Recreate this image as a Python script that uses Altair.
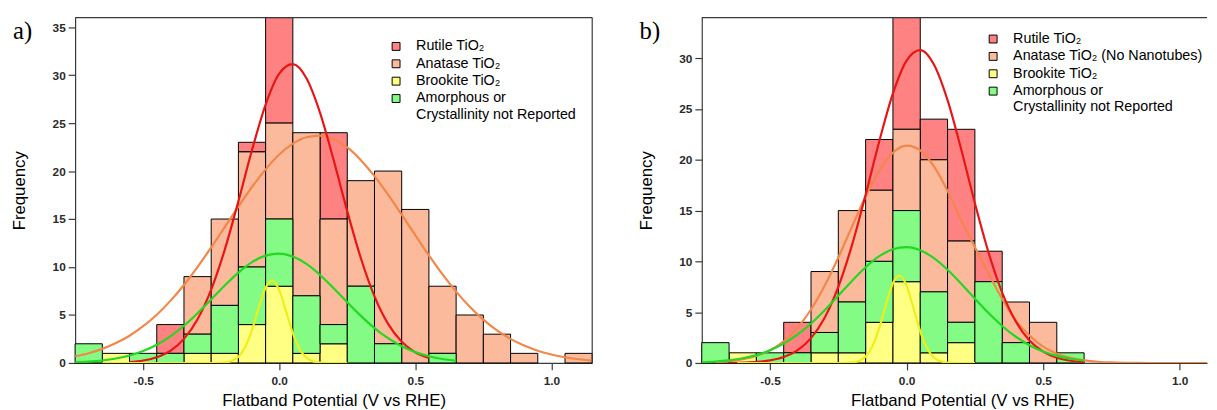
import altair as alt
import pandas as pd

# ---------------- data ----------------
bin_centers = [-0.7, -0.6, -0.5, -0.4, -0.3, -0.2, -0.1, 0.0, 0.1, 0.2,
               0.3, 0.4, 0.5, 0.6, 0.7, 0.8, 0.9, 1.0, 1.1]
bin_width = 0.1

cats_a = ["Rutile TiO₂", "Anatase TiO₂", "Brookite TiO₂",
          "Amorphous or Crystallinity not Reported"]
cats_b = ["Rutile TiO₂", "Anatase TiO₂ (No Nanotubes)", "Brookite TiO₂",
          "Amorphous or Crystallinity not Reported"]

# counts per bin (panel a)
rutile_a   = [0, 0, 0, 3, 0, 0, 1, 11, 0, 9, 0, 0, 0, 0, 0, 0, 0, 0, 0]
anatase_a  = [0, 0, 0, 0, 6, 9, 12, 10, 17, 11, 11, 18, 16, 7, 5, 3, 1, 0, 1]
brookite_a = [0, 1, 0, 0, 1, 1, 4, 8, 1, 2, 0, 0, 0, 0, 0, 0, 0, 0, 0]
amorph_a   = [2, 0, 1, 1, 2, 5, 6, 7, 6, 2, 8, 2, 0, 1, 0, 0, 0, 0, 0]

# counts per bin (panel b)
rutile_b   = [0, 0, 0, 3, 0, 0, 5, 11, 4, 11, 3, 0, 0, 0, 0, 0, 0, 0, 0]
anatase_b  = [0, 0, 0, 0, 6, 9, 7, 8, 13, 8, 0, 4, 4, 0, 0, 0, 0, 0, 0]
brookite_b = [0, 1, 0, 0, 1, 1, 4, 8, 1, 2, 0, 0, 0, 0, 0, 0, 0, 0, 0]
amorph_b   = [2, 0, 1, 1, 2, 5, 6, 7, 6, 2, 8, 2, 0, 1, 0, 0, 0, 0, 0]

# fitted curves
red_a_x = [-0.55, -0.50, -0.45, -0.40, -0.35, -0.30, -0.25, -0.20, -0.15, -0.10, -0.05,
           0.00, 0.05, 0.10, 0.15, 0.20, 0.25, 0.30, 0.35, 0.40, 0.45, 0.50, 0.55]
red_a_y = [0.10, 0.26, 0.60, 1.27, 2.51, 4.56, 7.64, 11.82, 16.86, 22.19, 26.93,
           30.15, 31.14, 29.67, 26.07, 21.14, 15.81, 10.91, 6.94, 4.07, 2.21, 1.10, 0.51]

orange_a_x = [-0.75, -0.70, -0.65, -0.60, -0.55, -0.50, -0.45, -0.40, -0.35, -0.30,
              -0.25, -0.20, -0.15, -0.10, -0.05, 0.00, 0.05, 0.10, 0.15, 0.20,
              0.25, 0.30, 0.35, 0.40, 0.45, 0.50, 0.55, 0.60, 0.65, 0.70,
              0.75, 0.80, 0.85, 0.90, 0.95, 1.00, 1.05, 1.10, 1.15]
orange_a_y = [0.70, 1.02, 1.47, 2.07, 2.84, 3.83, 5.03, 6.47, 8.13, 10.01,
              12.04, 14.16, 16.29, 18.34, 20.18, 21.72, 22.86, 23.53, 23.69, 23.32,
              22.46, 21.14, 19.47, 17.54, 15.45, 13.31, 11.21, 9.23, 7.44, 5.86,
              4.52, 3.40, 2.51, 1.81, 1.28, 0.88, 0.59, 0.39, 0.25]

green_a_x = [-0.75, -0.70, -0.65, -0.60, -0.55, -0.50, -0.45, -0.40, -0.35, -0.30,
             -0.25, -0.20, -0.15, -0.10, -0.05, 0.00, 0.05, 0.10, 0.15, 0.20,
             0.25, 0.30, 0.35, 0.40, 0.45, 0.50, 0.55, 0.60, 0.65]
green_a_y = [0.07, 0.14, 0.26, 0.46, 0.77, 1.24, 1.90, 2.78, 3.88, 5.18,
             6.62, 8.08, 9.42, 10.51, 11.19, 11.40, 11.09, 10.32, 9.17, 7.79,
             6.33, 4.91, 3.64, 2.58, 1.75, 1.13, 0.70, 0.41, 0.23]

yellow_a_x = [-0.65, -0.50, -0.40, -0.30, -0.25, -0.20, -0.175, -0.15, -0.125, -0.10, -0.075,
              -0.05, -0.025, 0.00, 0.025, 0.05, 0.075, 0.10, 0.125, 0.15, 0.20, 0.25]
yellow_a_y = [0.0, 0.0, 0.0, 0.0, 0.0, 0.05, 0.20, 0.64, 1.66, 3.45, 5.79,
              7.85, 8.59, 7.59, 5.41, 3.11, 1.44, 0.54, 0.16, 0.04, 0.0, 0.0]

red_b_x = [-0.65, -0.60, -0.55, -0.50, -0.45, -0.40, -0.35, -0.30, -0.25, -0.20, -0.15, -0.10, -0.05,
           0.00, 0.05, 0.10, 0.15, 0.20, 0.25, 0.30, 0.35, 0.40, 0.45, 0.50, 0.55, 0.60, 0.65]
red_b_y = [0.01, 0.04, 0.10, 0.25, 0.58, 1.24, 2.45, 4.46, 7.49, 11.60, 16.56, 21.83, 26.54,
           29.77, 30.80, 29.38, 25.87, 21.01, 15.73, 10.87, 6.93, 4.08, 2.21, 1.11, 0.51, 0.22, 0.09]

orange_b_x = [-0.70, -0.65, -0.60, -0.55, -0.50, -0.45, -0.40, -0.35, -0.30, -0.25,
              -0.20, -0.15, -0.10, -0.05, 0.00, 0.05, 0.10, 0.15, 0.20, 0.25,
              0.30, 0.35, 0.40, 0.45, 0.50, 0.55, 0.60, 0.65, 0.70, 0.75,
              0.80, 0.90, 1.00, 1.10]
orange_b_y = [0.08, 0.18, 0.36, 0.70, 1.25, 2.14, 3.45, 5.26, 7.60, 10.38,
              13.41, 16.38, 18.93, 20.69, 21.39, 20.92, 19.36, 16.94, 14.02, 11.40,
              8.80, 6.30, 4.20, 2.70, 1.60, 0.90, 0.50, 0.25, 0.12, 0.05,
              0.02, 0.0, 0.0, 0.0]

green_b_x = green_a_x
green_b_y = [0.07, 0.14, 0.26, 0.46, 0.77, 1.24, 1.90, 2.78, 3.88, 5.18,
             6.62, 8.08, 9.42, 10.51, 11.19, 11.40, 11.09, 10.32, 9.17, 7.79,
             6.33, 4.91, 3.64, 2.58, 1.75, 1.13, 0.70, 0.41, 0.23]
yellow_b_x = [-0.62, -0.50, -0.40, -0.30, -0.25, -0.20, -0.175, -0.15, -0.125, -0.10, -0.075,
              -0.05, -0.025, 0.00, 0.025, 0.05, 0.075, 0.10, 0.125, 0.15, 0.20, 0.25]
yellow_b_y = yellow_a_y

panel_labels = ["a)", "b)"]
x_ticks = [-0.5, 0.0, 0.5, 1.0]
y_ticks_a = [0, 5, 10, 15, 20, 25, 30, 35]
y_ticks_b = [0, 5, 10, 15, 20, 25, 30]

# ---------------- styling ----------------
fill_colors = ["#FF8282", "#FBBA9C", "#FFFF84", "#84FB84"]
series_names = ["Anatase fit", "Rutile fit", "Amorphous fit", "Brookite fit"]
line_colors = ["#F2874A", "#E81515", "#22D822", "#EEEE1A"]
frame_color = "#3a3a3a"
FONT = "Liberation Sans"
H = 350


def bars_frame(cats, cols):
    stack_order = {cats[2]: 1, cats[3]: 2, cats[1]: 3, cats[0]: 4}
    rows = []
    for cat, vals in zip(cats, cols):
        for c, v in zip(bin_centers, vals):
            if v > 0:
                rows.append({"start": round(c - bin_width / 2, 3),
                             "end": round(c + bin_width / 2, 3),
                             "cat": cat, "order": stack_order[cat], "count": v})
    return pd.DataFrame(rows)


def curves_frame(curves):
    rows = []
    for name, xs, ys in curves:
        for x, y in zip(xs, ys):
            rows.append({"series": name, "x": x, "y": y})
    return pd.DataFrame(rows)


def panel(bars_df, curves_df, cats, y_max, y_ticks, x_max, width,
          legend_x, legend_y, label, title_x=None):
    xscale = alt.Scale(domain=[-0.75, x_max], nice=False, zero=False)
    yscale = alt.Scale(domain=[0, y_max], nice=False, zero=True)
    xaxis_kw = dict(values=x_ticks,
                    labelExpr="datum.value < 0 ? '-' + format(-datum.value, '.1f') : format(datum.value, '.1f')",
                    title="Flatband Potential (V vs RHE)", grid=False,
                    tickSize=7, labelPadding=6, titlePadding=6,
                    domainColor=frame_color, tickColor=frame_color, domainWidth=1.2, tickWidth=1.2,
                    labelFont=FONT, labelFontSize=12, labelFontWeight="bold", labelColor="#2a2a2a",
                    titleFont=FONT, titleFontSize=17, titleFontWeight="normal", titleColor="black")
    if title_x is not None:
        xaxis_kw["titleX"] = title_x
    xaxis = alt.Axis(**xaxis_kw)
    yaxis = alt.Axis(values=y_ticks, title="Frequency", grid=False,
                     tickSize=7, labelPadding=3, titlePadding=24,
                     domainColor=frame_color, tickColor=frame_color, domainWidth=1.2, tickWidth=1.2,
                     labelFont=FONT, labelFontSize=12, labelFontWeight="bold", labelColor="#2a2a2a",
                     titleFont=FONT, titleFontSize=17, titleFontWeight="normal", titleColor="black")

    bars = alt.Chart(bars_df).transform_stack(
        stack="count", groupby=["start"], as_=["y0", "y1"],
        sort=[alt.SortField("order", order="ascending")]
    ).mark_rect(stroke="black", strokeWidth=1).encode(
        x=alt.X("start:Q", scale=xscale, axis=xaxis),
        x2="end:Q",
        y=alt.Y("y0:Q", scale=yscale, axis=yaxis),
        y2="y1:Q",
        fill=alt.Fill("cat:N", scale=alt.Scale(domain=cats, range=fill_colors),
                      legend=alt.Legend(
                          title=None, orient="none", legendX=legend_x, legendY=legend_y,
                          symbolType="square", symbolSize=64, symbolStrokeColor="black",
                          symbolStrokeWidth=1, symbolOpacity=1,
                          labelFont=FONT, labelFontSize=14.5, labelColor="black",
                          labelOffset=13, rowPadding=2.6, labelLimit=400, padding=0,
                          labelExpr="datum.label == 'Amorphous or Crystallinity not Reported' ? ['Amorphous or', 'Crystallinity not Reported'] : datum.label")),
    )

    lines = alt.Chart(curves_df).mark_line(strokeWidth=2.2, clip=True, interpolate="monotone").encode(
        x=alt.X("x:Q", scale=xscale),
        y=alt.Y("y:Q", scale=yscale),
        stroke=alt.Stroke("series:N", scale=alt.Scale(domain=series_names, range=line_colors), legend=None),
    )

    one = pd.DataFrame({"k": [0]})
    top_rule = alt.Chart(one).mark_rule(color=frame_color, strokeWidth=1.2).encode(
        x=alt.value(0), x2=alt.value(width), y=alt.value(0))
    layers = [bars, lines, top_rule]
    if label == "a)":
        right_rule = alt.Chart(one).mark_rule(color=frame_color, strokeWidth=1.2).encode(
            x=alt.value(width), y=alt.value(0), y2=alt.value(H))
        layers.append(right_rule)
    txt = alt.Chart(pd.DataFrame({"label": [label]})).mark_text(
        font="Liberation Serif", fontSize=25, align="left", baseline="alphabetic", color="black"
    ).encode(text="label:N", x=alt.value(-63), y=alt.value(22))
    layers.append(txt)

    return alt.layer(*layers).resolve_scale(fill="independent", stroke="independent").properties(
        width=width, height=H)


bars_a = bars_frame(cats_a, [rutile_a, anatase_a, brookite_a, amorph_a])
bars_b = bars_frame(cats_b, [rutile_b, anatase_b, brookite_b, amorph_b])
curves_a = curves_frame([("Anatase fit", orange_a_x, orange_a_y), ("Rutile fit", red_a_x, red_a_y),
                         ("Amorphous fit", green_a_x, green_a_y), ("Brookite fit", yellow_a_x, yellow_a_y)])
curves_b = curves_frame([("Anatase fit", orange_b_x, orange_b_y), ("Rutile fit", red_b_x, red_b_y),
                         ("Amorphous fit", green_b_x, green_b_y), ("Brookite fit", yellow_b_x, yellow_b_y)])

pa = panel(bars_a, curves_a, cats_a, 36, y_ticks_a, 1.15, 524, 318, 22, panel_labels[0])
pb = panel(bars_b, curves_b, cats_b, 34, y_ticks_b, 1.10, 512, 288, 14.5, panel_labels[1], title_x=264)

chart = alt.hconcat(pa, pb, spacing=43).resolve_scale(
    x="independent", y="independent", fill="independent", stroke="independent"
).resolve_legend(fill="independent").properties(
    padding={"left": 2, "top": 5, "right": 0, "bottom": 0}
).configure_view(stroke="transparent")

chart.save("out.html", embed_options={"renderer": "svg", "actions": False})
